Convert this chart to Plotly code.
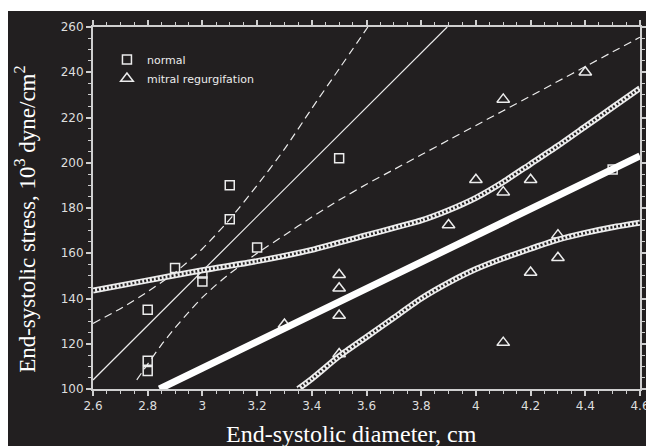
import plotly.graph_objects as go

# ---- data ----
normal_x = [2.8, 2.8, 2.8, 2.9, 3.0, 3.0, 3.1, 3.1, 3.2, 3.5, 4.5]
normal_y = [135, 112.5, 108, 153.5, 151, 147.5, 190, 175, 162.5, 202, 197]

mr_x = [3.3, 3.5, 3.5, 3.5, 3.5, 3.9, 4.0, 4.1, 4.1, 4.1, 4.2, 4.2, 4.3, 4.3, 4.4]
mr_y = [128.5, 150.5, 144.5, 132.5, 115.5, 172.5, 192.5, 228, 187, 120.5, 192.5, 151.5, 168, 158, 240]

# normal regression line and its confidence limits (dashed)
normal_fit_x = [2.6, 3.895]
normal_fit_y = [104, 260]
normal_up_x = [2.6, 2.7, 2.8, 2.9, 3.0, 3.1, 3.2, 3.3, 3.4, 3.5, 3.605]
normal_up_y = [129, 135.5, 143, 151.5, 162, 175, 190, 206, 224, 241.5, 260]
normal_lo_x = [2.76, 2.8, 2.85, 2.9, 2.95, 3.0, 3.05, 3.1, 3.2, 3.3, 3.4, 3.5, 3.6, 3.7,
               3.8, 3.9, 4.0, 4.1, 4.2, 4.3, 4.4, 4.5, 4.6]
normal_lo_y = [104, 111, 119.5, 127, 134, 140.5, 146, 151, 160, 168, 176, 183.5, 190.5, 197,
               203.5, 210, 216.5, 223, 229.5, 236, 242.5, 249, 255.5]

# mitral regurgitation regression line and its confidence limits (hatched)
mr_fit_x = [2.843, 4.6]
mr_fit_y = [100, 203]
mr_up_x = [2.6, 2.8, 3.0, 3.2, 3.4, 3.6, 3.8, 3.9, 4.0, 4.1, 4.2, 4.3, 4.4, 4.5, 4.6]
mr_up_y = [143.5, 148, 152.5, 156.5, 161.5, 168, 174.5, 179, 184.5, 191.5, 199.5, 207.5, 216, 224.5, 233]
mr_lo_x = [3.35, 3.4, 3.5, 3.6, 3.7, 3.8, 3.9, 4.0, 4.1, 4.2, 4.3, 4.4, 4.5, 4.6]
mr_lo_y = [100, 104.5, 114.5, 123, 131.5, 140, 147, 153, 157.8, 162, 166, 169, 171.5, 173.5]

x_ticks = [2.6, 2.8, 3.0, 3.2, 3.4, 3.6, 3.8, 4.0, 4.2, 4.4, 4.6]
x_ticktext = ["2.6", "2.8", "3", "3.2", "3.4", "3.6", "3.8", "4", "4.2", "4.4", "4.6"]
y_ticks = [100, 120, 140, 160, 180, 200, 220, 240, 260]
y_ticktext = ["100", "120", "140", "160", "180", "200", "220", "240", "260"]

BG = "#221f20"
FG = "#ececec"
AX = "#cfcfcf"

fig = go.Figure()

# markers (drawn first so the lines cover them, as in the reference)
fig.add_trace(go.Scatter(x=normal_x, y=normal_y, mode="markers", name="normal",
                         marker=dict(symbol="square-open", size=9, color=FG,
                                     line=dict(width=1.5, color=FG))))
fig.add_trace(go.Scatter(x=mr_x, y=mr_y, mode="markers", name="mitral regurgifation",
                         marker=dict(symbol="triangle-up-open", size=11, color=FG,
                                     line=dict(width=1.5, color=FG))))

# normal regression + dashed limits
fig.add_trace(go.Scatter(x=normal_fit_x, y=normal_fit_y, mode="lines", showlegend=False,
                         line=dict(color=FG, width=1.2)))
for xs, ys in [(normal_up_x, normal_up_y), (normal_lo_x, normal_lo_y)]:
    fig.add_trace(go.Scatter(x=xs, y=ys, mode="lines", showlegend=False,
                             line=dict(color=FG, width=1.2, dash="8px,5px", shape="spline",
                                       smoothing=0.6)))

# MR hatched limits: white band with a dashed dark core -> hatched look
for xs, ys in [(mr_up_x, mr_up_y), (mr_lo_x, mr_lo_y)]:
    fig.add_trace(go.Scatter(x=xs, y=ys, mode="lines", showlegend=False,
                             line=dict(color=FG, width=6, shape="spline", smoothing=0.6)))
    fig.add_trace(go.Scatter(x=xs, y=ys, mode="lines", showlegend=False,
                             line=dict(color=BG, width=2.5, dash="2px,2px", shape="spline",
                                       smoothing=0.6)))

# MR regression (thick)
fig.add_trace(go.Scatter(x=mr_fit_x, y=mr_fit_y, mode="lines", showlegend=False,
                         line=dict(color="#ffffff", width=7)))

axis_common = dict(showline=True, linecolor=AX, linewidth=2, mirror="ticks",
                   ticks="outside", ticklen=5, tickwidth=1.5, tickcolor=AX,
                   showgrid=False, zeroline=False,
                   tickfont=dict(family="DejaVu Sans", size=12, color="#dedede"))

fig.update_xaxes(range=[2.6, 4.6], tickvals=x_ticks, ticktext=x_ticktext,
                 minor=dict(dtick=0.05, tick0=2.6, ticks="outside", ticklen=3,
                            tickwidth=1.2, tickcolor=AX, showgrid=False),
                 **axis_common)
fig.update_yaxes(range=[100, 260], tickvals=y_ticks, ticktext=y_ticktext,
                 minor=dict(dtick=5, tick0=100, ticks="outside", ticklen=3,
                            tickwidth=1.2, tickcolor=AX, showgrid=False),
                 **axis_common)

fig.update_layout(
    width=654, height=446,
    margin=dict(l=85, r=22, t=19, b=65),
    paper_bgcolor=BG, plot_bgcolor=BG,
    showlegend=True,
    legend=dict(x=0.0255, y=0.95, xanchor="left", yanchor="top",
                bgcolor="rgba(0,0,0,0)", borderwidth=0,
                font=dict(family="DejaVu Sans", size=11, color=FG),
                tracegroupgap=0),
    shapes=[dict(type="rect", xref="paper", yref="paper", layer="below",
                 x0=-0.3, x1=1.2, y0=1.0442, y1=1.2,
                 fillcolor="white", line=dict(width=0))],
    annotations=[
        dict(text="End-systolic diameter, cm", xref="paper", yref="paper",
             x=0.4717, y=-0.125, xanchor="center", yanchor="middle", showarrow=False,
             font=dict(family="Liberation Serif", size=24, color="white")),
        dict(text="End-systolic stress, 10<sup>3</sup> dyne/cm<sup>2</sup>", xref="paper",
             yref="paper", x=-0.1225, y=0.47, xanchor="center", yanchor="middle",
             textangle=-90, showarrow=False,
             font=dict(family="Liberation Serif", size=23, color="white")),
    ],
)

fig.write_html("out.html")
